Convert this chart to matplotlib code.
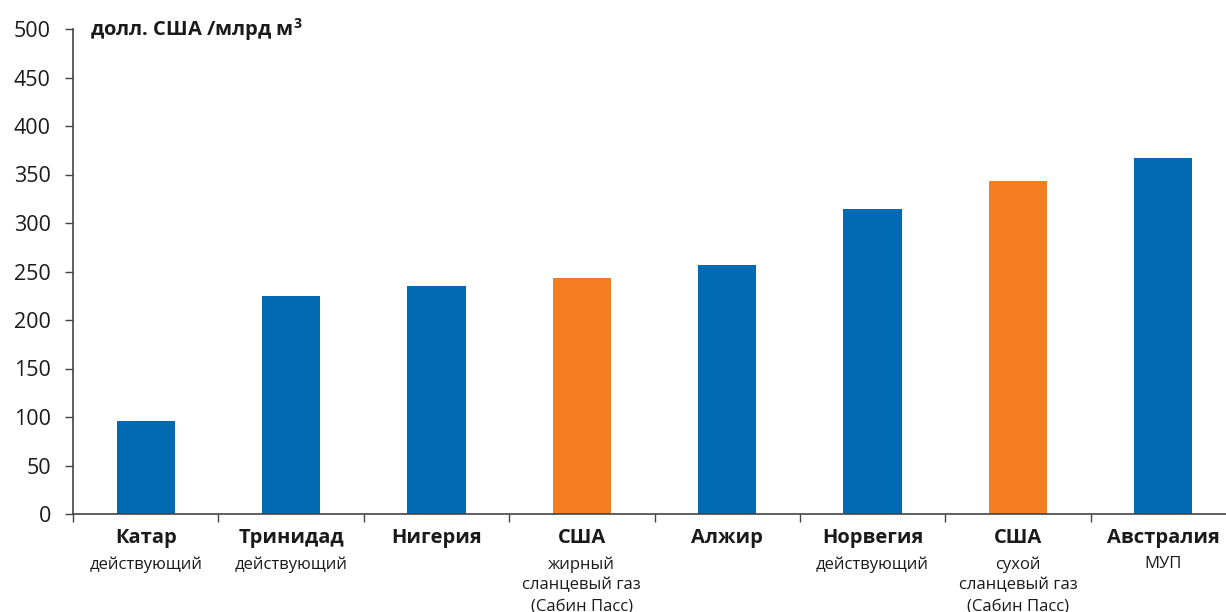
import matplotlib
matplotlib.use("Agg")
import matplotlib.pyplot as plt
import matplotlib.transforms as mtransforms

countries = ["Катар", "Тринидад", "Нигерия", "США", "Алжир", "Норвегия", "США", "Австралия"]
notes = ["действующий", "действующий", "", "жирный\nсланцевый газ\n(Сабин Пасс)", "",
         "действующий", "сухой\nсланцевый газ\n(Сабин Пасс)", "МУП"]
values = [96, 225, 235, 243, 257, 314, 343, 367]
is_us = [False, False, False, True, False, False, True, False]

BLUE = "#006AB5"
ORANGE = "#F47D22"
FONT = "Open Sans"
TEXT = "#1a1a1a"

W, H = 1226, 612
fig = plt.figure(figsize=(W / 100, H / 100), dpi=100)
ax = fig.add_axes([73 / W, (H - 514) / H, (1236 - 73) / W, (514 - 29) / H])

x = list(range(len(values)))
colors = [ORANGE if u else BLUE for u in is_us]
ax.bar(x, values, width=0.4, color=colors, zorder=2)

ax.set_xlim(-0.5, len(values) - 0.5)
ax.set_ylim(0, 500)
ax.set_yticks(range(0, 501, 50))
ax.set_yticklabels([str(v) for v in range(0, 501, 50)], fontsize=15.5, family=FONT, color=TEXT)
ax.set_xticks([i - 0.5 for i in range(len(values) + 1)])
ax.set_xticklabels([])
ax.tick_params(axis="y", direction="out", length=6, width=1, color="#444444", pad=10)
ax.tick_params(axis="x", direction="out", length=6, width=1, color="#444444")
for side in ("top", "right"):
    ax.spines[side].set_visible(False)
for side in ("left", "bottom"):
    ax.spines[side].set_color("#444444")
    ax.spines[side].set_linewidth(1.2)

trans = mtransforms.blended_transform_factory(ax.transData, ax.transAxes)
for i, (name, note) in enumerate(zip(countries, notes)):
    ax.text(i, -0.05, name, transform=trans, ha="center", va="center",
            fontsize=14.5, fontweight="bold", family=FONT, color=TEXT)
    if note:
        ax.text(i, -0.087, note, transform=trans, ha="center", va="top",
                fontsize=12, family=FONT, color=TEXT, linespacing=1.4)

fig.text(90 / W, 1 - 30 / H, "долл. США /млрд м$^\\mathregular{3}$", ha="left", va="center",
         fontsize=14.5, fontweight="bold", family=FONT, color=TEXT)

fig.savefig("out.png", dpi=100)
